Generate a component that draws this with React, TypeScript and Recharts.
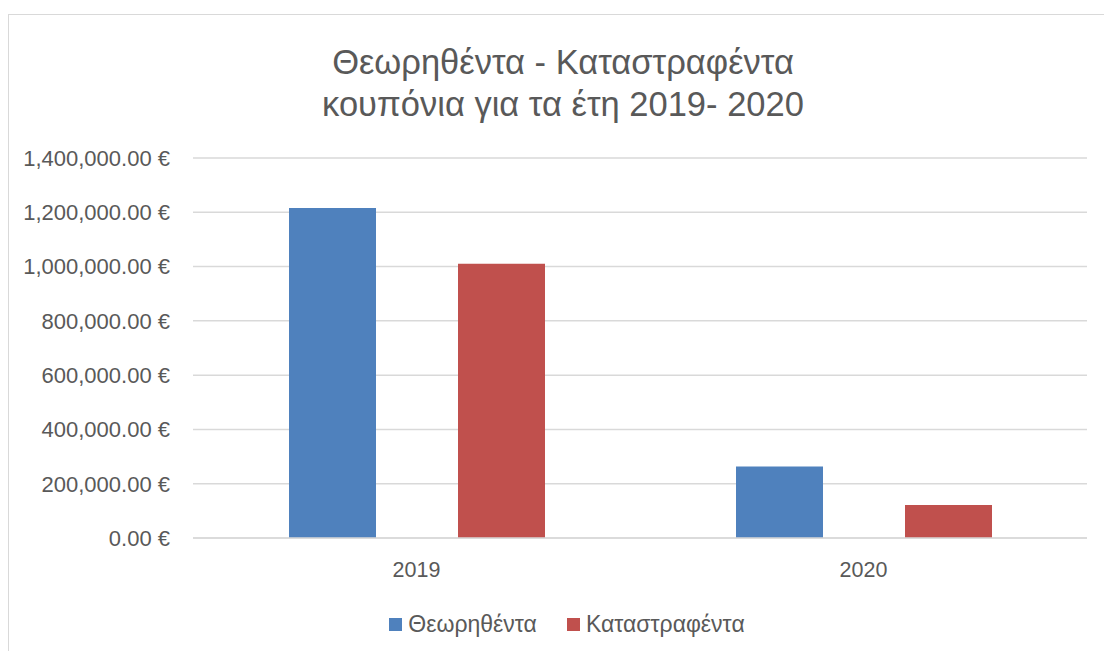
import React from "react";
import { BarChart, Bar, XAxis, YAxis, CartesianGrid, Legend } from "recharts";

// Θεωρηθέντα / Καταστραφέντα κουπόνια ανά έτος
const years = ["2019", "2020"];
const theorithenta = [1216000, 263000];
const katastrafenta = [1010000, 122000];
const yTicks = [0, 200000, 400000, 600000, 800000, 1000000, 1200000, 1400000];

const C = { blue: "#4f81bd", red: "#c0504d", text: "#595959", grid: "#d9d9d9" };
const FONT = "'Liberation Sans', Arial, sans-serif";

const data = years.map((y, i) => ({
  year: y,
  theo: theorithenta[i],
  kat: katastrafenta[i],
}));

const fmtEuro = (v: number) =>
  v.toLocaleString("en-US", { minimumFractionDigits: 2, maximumFractionDigits: 2 }) + " €";

function LegendContent({ payload }: any) {
  return (
    <div style={{ display: "flex", justifyContent: "center", gap: 30, paddingLeft: 47, fontFamily: FONT, fontSize: 23, color: C.text }}>
      {(payload || []).map((p: any) => (
        <span key={p.value} style={{ display: "inline-flex", alignItems: "center", gap: 6 }}>
          <span style={{ width: 13, height: 13, background: p.color, display: "inline-block" }} />
          {p.value}
        </span>
      ))}
    </div>
  );
}

export default function App() {
  return (
    <div style={{ position: "absolute", left: 0, top: 0, width: 1104, height: 651, overflow: "hidden", background: "#fff", fontFamily: FONT }}>
      <div style={{ position: "absolute", left: 8, top: 14, width: 1120, height: 680, border: `1px solid ${C.grid}` }} />
      <div style={{ position: "absolute", left: 0, top: 41, width: 1126, textAlign: "center", color: C.text, fontSize: 34.5, lineHeight: "42px" }}>
        Θεωρηθέντα - Καταστραφέντα<br />κουπόνια για τα έτη 2019- 2020
      </div>
      <BarChart width={1104} height={651} data={data} margin={{ top: 158, right: 17, left: 0, bottom: 0 }}
        barCategoryGap={96} barGap={82} style={{ position: "absolute", left: 0, top: 0 }}>
        <CartesianGrid horizontal vertical={false} stroke={C.grid} strokeWidth={1.5} />
        <XAxis dataKey="year" height={73} tickLine={false} axisLine={{ stroke: C.grid, strokeWidth: 1.5 }}
          tick={{ fill: C.text, fontSize: 21.5, fontFamily: FONT }} tickMargin={18} />
        <YAxis width={193} ticks={yTicks} domain={[0, 1400000]} tickFormatter={fmtEuro} tickLine={false} axisLine={false}
          tick={{ fill: C.text, fontSize: 22, fontFamily: FONT }} tickMargin={17} interval={0} />
        <Legend verticalAlign="bottom" height={40} wrapperStyle={{ bottom: 0, top: 611 }} content={<LegendContent />} />
        <Bar dataKey="theo" name="Θεωρηθέντα" fill={C.blue} isAnimationActive={false} />
        <Bar dataKey="kat" name="Καταστραφέντα" fill={C.red} isAnimationActive={false} />
      </BarChart>
    </div>
  );
}
